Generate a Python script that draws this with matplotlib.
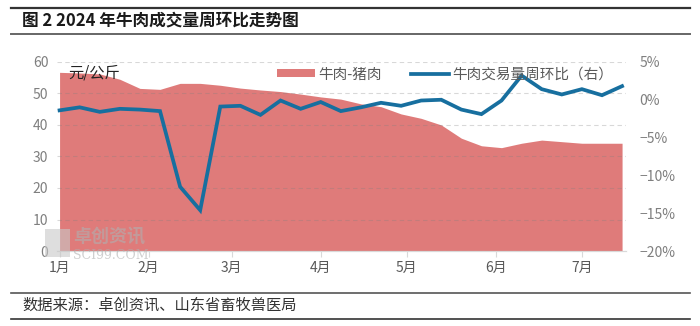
import pandas as pd
import matplotlib
matplotlib.use("Agg")
import matplotlib.pyplot as plt
import matplotlib.dates as mdates
from matplotlib.lines import Line2D
from matplotlib.patches import Patch, Rectangle

plt.rcParams['font.family'] = ['Noto Sans CJK SC', 'DejaVu Sans']
plt.rcParams['axes.unicode_minus'] = True

# 周度数据，2024年1月初至7月中旬
weeks = pd.date_range("2024-01-01", periods=29, freq="7D")

# 牛肉-猪肉 价差（元/公斤）
beef_pork = [56.7, 56.5, 56.2, 54.5, 51.6, 51.3, 53.2, 53.2, 52.6, 51.7,
             51.1, 50.6, 49.8, 48.9, 48.2, 46.7, 45.8, 43.5, 42.1, 40.0,
             35.8, 33.4, 32.8, 34.2, 35.2, 34.7, 34.2, 34.2, 34.2]

# 牛肉交易量周环比（%）
volume_wow = [-1.4, -1.0, -1.6, -1.2, -1.3, -1.5, -11.5, -14.6, -0.9, -0.8,
              -2.0, -0.1, -1.2, -0.3, -1.5, -1.0, -0.4, -0.8, -0.1, 0.0,
              -1.3, -1.9, -0.1, 3.2, 1.4, 0.7, 1.4, 0.6, 1.8]

left_ticks = [0, 10, 20, 30, 40, 50, 60]
right_ticks = [-20, -15, -10, -5, 0, 5]

area_color = "#df7b7a"
line_color = "#176f9f"
label_color = "#7f7f7f"

fig = plt.figure(figsize=(7, 3.26), dpi=100)
ax = fig.add_axes([0.081, 0.230, 0.813, 0.580])
ax2 = ax.twinx()

ax.fill_between(weeks, 0, beef_pork, color=area_color, linewidth=0, zorder=1)
ax2.plot(weeks, volume_wow, color=line_color, linewidth=2.7, zorder=3,
         solid_joinstyle="miter")

ax.set_ylim(0, 60)
ax.set_yticks(left_ticks)
ax2.set_ylim(-20, 5)
ax2.set_yticks(right_ticks)
ax2.set_yticklabels([f"{t}%".replace("-", "\u2212") for t in right_ticks])

ax.set_xlim(weeks[0] - pd.Timedelta(days=1), weeks[-1] + pd.Timedelta(days=1.3))
ax.xaxis.set_major_locator(mdates.MonthLocator())
ax.xaxis.set_major_formatter(mdates.DateFormatter("%-m月"))

ax.set_axisbelow(False)
ax.grid(axis="y", color="#808080", alpha=0.3, linestyle=(0, (4, 3)), linewidth=0.8)
ax.grid(axis="x", visible=False)

for a in (ax, ax2):
    for s in ("top", "left", "right"):
        a.spines[s].set_visible(False)
    a.spines["bottom"].set_color("#d9d9d9")
ax.tick_params(axis="y", length=0, labelsize=10, labelcolor=label_color, pad=6)
ax2.tick_params(axis="y", length=0, labelsize=10, labelcolor=label_color, pad=10)
ax.tick_params(axis="x", length=4, color="#d9d9d9", labelsize=10,
               labelcolor="#595959", pad=3)

ax.text(0.02, 0.985, "元/公斤", transform=ax.transAxes, fontsize=11,
        color="#222222", va="top", ha="left")

handles = [Patch(facecolor=area_color, edgecolor="none", label="牛肉-猪肉"),
           Line2D([], [], color=line_color, linewidth=2.7, label="牛肉交易量周环比（右）")]
leg = ax2.legend(handles=handles, loc="upper right", bbox_to_anchor=(1.0, 1.04),
                 ncol=2, frameon=False, fontsize=10.5, handlelength=2.6,
                 handleheight=0.45, columnspacing=2.0, handletextpad=0.2)
for t in leg.get_texts():
    t.set_color("#595959")

# 水印
fig.patches.append(Rectangle((0.064, 0.212), 0.036, 0.085, transform=fig.transFigure,
                             facecolor="#c8c8c8", alpha=0.6, edgecolor="none"))
fig.text(0.105, 0.275, "卓创资讯", fontsize=13, fontweight="bold",
         color="#b0b0b0", alpha=0.6, va="center")
fig.text(0.105, 0.215, "SCI99.COM", fontsize=9, family="DejaVu Serif",
         color="#b0b0b0", alpha=0.6, va="center")

# 标题与来源
fig.text(0.032, 0.938, "图 2 2024 年牛肉成交量周环比走势图", fontsize=12,
         fontweight="bold", color="#1a1a1a", va="center")
fig.text(0.032, 0.064, "数据来源：卓创资讯、山东省畜牧兽医局", fontsize=11,
         color="#333333", va="center")
for y, c, lw in [(0.975, "#333333", 1.6), (0.897, "#666666", 1.4),
                 (0.101, "#555555", 1.2), (0.021, "#333333", 1.2)]:
    fig.add_artist(Line2D([0.016, 0.985], [y, y], transform=fig.transFigure,
                          color=c, linewidth=lw))

fig.savefig("out.png", dpi=100)
